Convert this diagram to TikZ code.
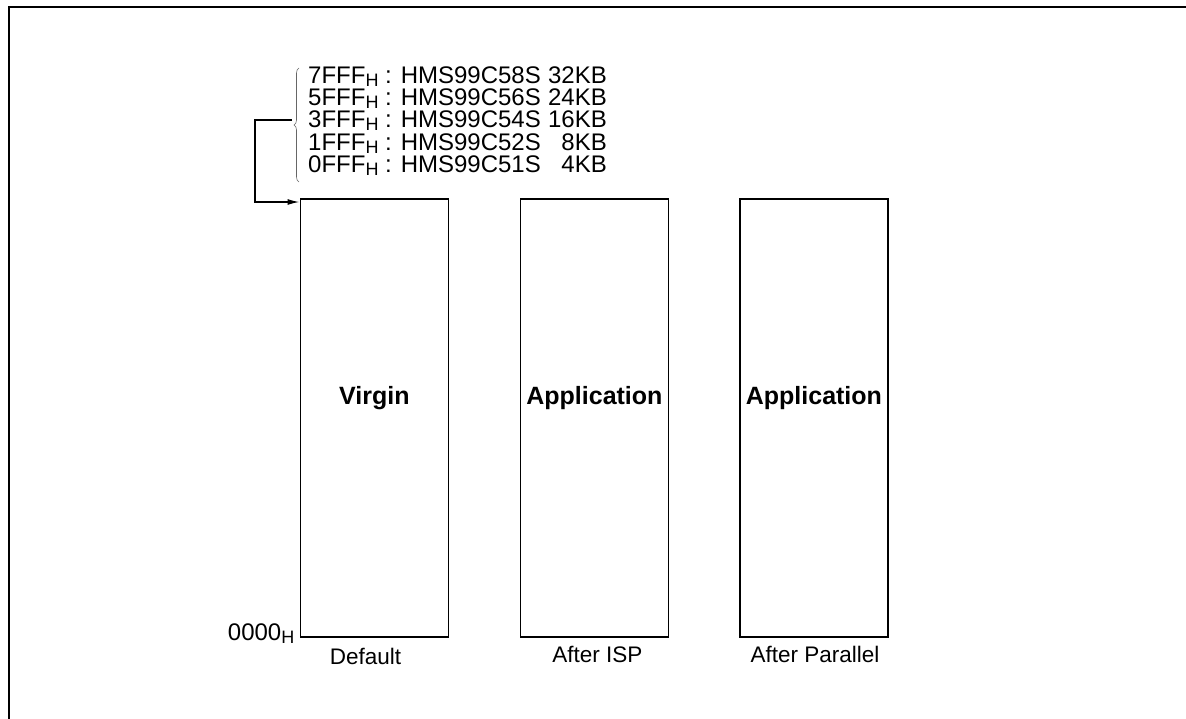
\documentclass[tikz,border=0pt]{standalone}
\usepackage{fontspec}
\setmainfont{Liberation Sans}
\usetikzlibrary{arrows.meta,decorations.pathreplacing}
\newcommand{\subH}{\raisebox{-3pt}{\fontsize{18}{18}\selectfont H}}
\newcommand{\kb}[1]{\makebox[66pt][r]{#1}}
\begin{document}
\begin{tikzpicture}[x=1pt,y=-1pt,
  mem/.style={draw,line width=1.8pt,minimum width=148pt,minimum height=438pt,inner sep=0pt,anchor=north west},
  addr/.style={anchor=base west,inner sep=0pt,font=\fontsize{24}{24}\selectfont},
  lbl/.style={font=\fontsize{22.5}{22.5}\selectfont,inner sep=0pt,anchor=base},
  big/.style={font=\bfseries\fontsize{25}{25}\selectfont,inner sep=0pt}]
\useasboundingbox (0,0) rectangle (1186,718);
\draw[line width=2pt] (1200,7) -- (9,7) -- (9,730);
\node[mem] (b1) at (299.5,198) {};
\node[mem] (b2) at (519.5,198) {};
\node[mem] (b3) at (739,198) {};
\node[big] (v) at ([yshift=-200pt]b1.north) {Virgin};
\node[big] (a1) at ([yshift=-200pt]b2.north) {Application};
\node[big] (a2) at ([yshift=-200pt]b3.north) {Application};
\node[lbl] (d1) at ([xshift=-9pt,yshift=-27pt]b1.south) {Default};
\node[lbl] (d2) at ([xshift=3pt,yshift=-25pt]b2.south) {After ISP};
\node[lbl] (d3) at ([xshift=1pt,yshift=-25pt]b3.south) {After Parallel};
\node[anchor=base east,inner sep=0pt,font=\fontsize{24}{24}\selectfont] (z) at ([xshift=-5pt,yshift=-3pt]b1.south west) {0000\subH};
\node[addr] (l1) at (308,83) {7FFF\subH{} : HMS99C58S\kb{32KB}};
\node[addr] (l2) at (308,105.5) {5FFF\subH{} : HMS99C56S\kb{24KB}};
\node[addr] (l3) at (308,127.5) {3FFF\subH{} : HMS99C54S\kb{16KB}};
\node[addr] (l4) at (308,150) {1FFF\subH{} : HMS99C52S\kb{8KB}};
\node[addr] (l5) at (308,172) {0FFF\subH{} : HMS99C51S\kb{4KB}};
\draw[decorate,decoration={brace,amplitude=5pt},line width=0.6pt,black!60] (299,182) -- (299,68);
\coordinate (tip) at (292,120);
\draw[line width=1.4pt,-{Latex[length=12pt,width=6pt]}] (tip) -- (255,120) |- ([yshift=-4pt]b1.north west);
\end{tikzpicture}
\end{document}
